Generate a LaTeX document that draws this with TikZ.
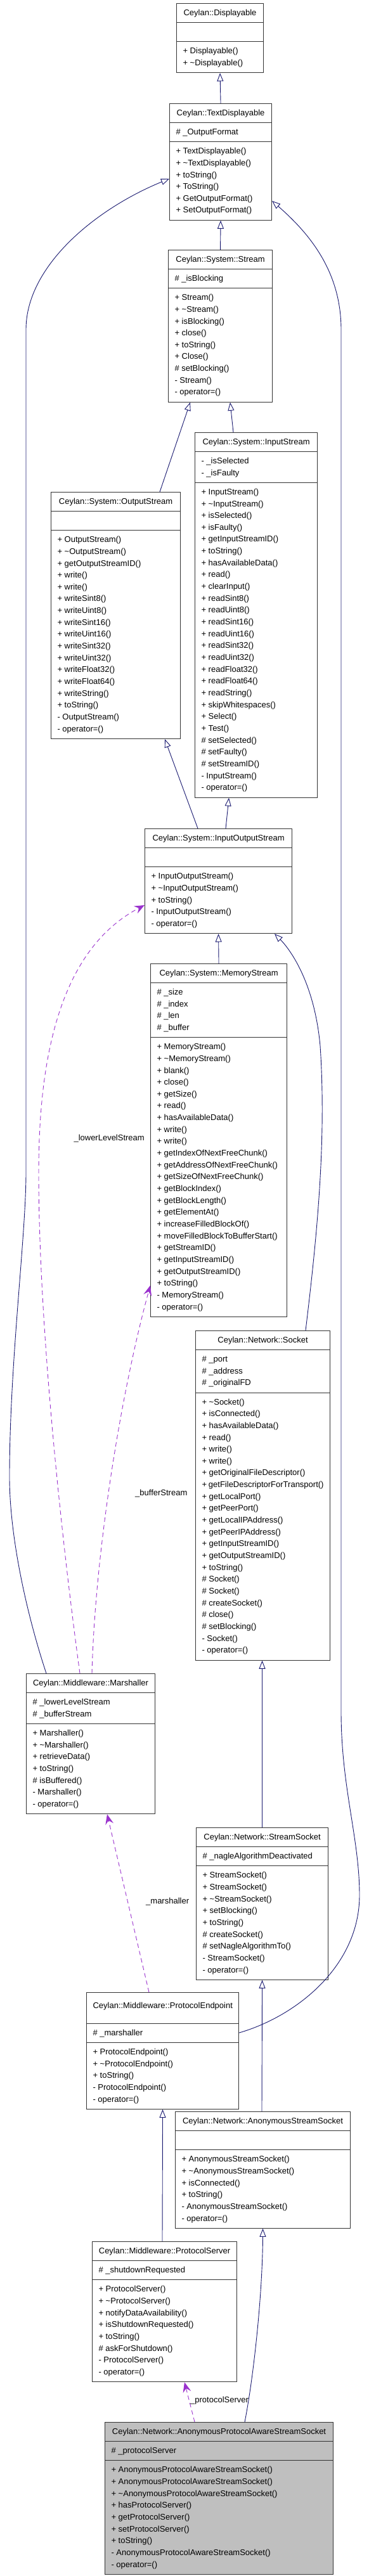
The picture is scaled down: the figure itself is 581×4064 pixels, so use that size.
\documentclass[tikz,border=0pt]{standalone}
\usepackage{fontspec}
\setmainfont{Liberation Sans}
\usetikzlibrary{arrows.meta, shapes.multipart}

\definecolor{inhcol}{RGB}{25,25,112}
\definecolor{usecol}{RGB}{154,50,205}

\tikzset{
  umlclass/.style={rectangle split, rectangle split parts=3, draw=black!80, line width=1.1pt, fill=white,
    align=flush left, inner xsep=10pt, inner ysep=5.2pt, anchor=north west, font=\fontsize{13}{18.66}\selectfont},
  inherit/.style={draw=inhcol, line width=0.9pt, -{Triangle[open, length=13pt, width=10pt]}},
  uses/.style={draw=usecol, line width=0.9pt, dash pattern=on 7pt off 5pt, -{Stealth[length=16pt, width=13pt, inset=6pt]}},
  lbl/.style={anchor=west, inner sep=0pt, font=\fontsize{13}{16}\selectfont}
}

\hyphenpenalty=10000
\exhyphenpenalty=10000
\hbadness=10000
\hfuzz=20pt
\newcommand{\umlparts}[3]{\hfill\strut#1\hfill\null\nodepart{two}\strut#2\strut\nodepart{three}\strut#3\strut}

\begin{document}
\begin{tikzpicture}[x=1pt, y=-1pt]
\useasboundingbox (0,0) rectangle (581,4064);

\node[umlclass, text width=117pt] (disp) at (278,5) {\umlparts{Ceylan::Displayable}{}{+ Displayable()\\+ \textasciitilde Displayable()}};
\node[umlclass, text width=141pt] (textdisp) at (267,163) {\umlparts{Ceylan::TextDisplayable}{\# \_OutputFormat}{+ TextDisplayable()\\+ \textasciitilde TextDisplayable()\\+ toString()\\+ ToString()\\+ GetOutputFormat()\\+ SetOutputFormat()}};
\node[umlclass, text width=144pt] (stream) at (265,394) {\umlparts{Ceylan::System::Stream}{\# \_isBlocking}{+ Stream()\\+ \textasciitilde Stream()\\+ isBlocking()\\+ close()\\+ toString()\\+ Close()\\\# setBlocking()\\- Stream()\\- operator=()}};
\node[umlclass, text width=184pt] (outstream) at (80,776) {\umlparts{Ceylan::System::OutputStream}{}{+ OutputStream()\\+ \textasciitilde OutputStream()\\+ getOutputStreamID()\\+ write()\\+ write()\\+ writeSint8()\\+ writeUint8()\\+ writeSint16()\\+ writeUint16()\\+ writeSint32()\\+ writeUint32()\\+ writeFloat32()\\+ writeFloat64()\\+ writeString()\\+ toString()\\- OutputStream()\\- operator=()}};
\node[umlclass, text width=173pt] (instream) at (307,682) {\umlparts{Ceylan::System::InputStream}{- \_isSelected\\- \_isFaulty}{+ InputStream()\\+ \textasciitilde InputStream()\\+ isSelected()\\+ isFaulty()\\+ getInputStreamID()\\+ toString()\\+ hasAvailableData()\\+ read()\\+ clearInput()\\+ readSint8()\\+ readUint8()\\+ readSint16()\\+ readUint16()\\+ readSint32()\\+ readUint32()\\+ readFloat32()\\+ readFloat64()\\+ readString()\\+ skipWhitespaces()\\+ Select()\\+ Test()\\\# setSelected()\\\# setFaulty()\\\# setStreamID()\\- InputStream()\\- operator=()}};
\node[umlclass, text width=212pt] (iostream) at (228,1307) {\umlparts{Ceylan::System::InputOutputStream}{}{+ InputOutputStream()\\+ \textasciitilde InputOutputStream()\\+ toString()\\- InputOutputStream()\\- operator=()}};
\node[umlclass, text width=195pt] (memstream) at (237,1520) {\umlparts{Ceylan::System::MemoryStream}{\# \_size\\\# \_index\\\# \_len\\\# \_buffer}{+ MemoryStream()\\+ \textasciitilde MemoryStream()\\+ blank()\\+ close()\\+ getSize()\\+ read()\\+ hasAvailableData()\\+ write()\\+ write()\\+ getIndexOfNextFreeChunk()\\+ getAddressOfNextFreeChunk()\\+ getSizeOfNextFreeChunk()\\+ getBlockIndex()\\+ getBlockLength()\\+ getElementAt()\\+ increaseFilledBlockOf()\\+ moveFilledBlockToBufferStart()\\+ getStreamID()\\+ getInputStreamID()\\+ getOutputStreamID()\\+ toString()\\- MemoryStream()\\- operator=()}};
\node[umlclass, text width=192pt] (socket) at (308,2099) {\umlparts{Ceylan::Network::Socket}{\# \_port\\\# \_address\\\# \_originalFD}{+ \textasciitilde Socket()\\+ isConnected()\\+ hasAvailableData()\\+ read()\\+ write()\\+ write()\\+ getOriginalFileDescriptor()\\+~getFileDescriptorForTransport()\\+ getLocalPort()\\+ getPeerPort()\\+ getLocalIPAddress()\\+ getPeerIPAddress()\\+ getInputStreamID()\\+ getOutputStreamID()\\+ toString()\\\# Socket()\\\# Socket()\\\# createSocket()\\\# close()\\\# setBlocking()\\- Socket()\\- operator=()}};
\node[umlclass, text width=183pt] (marshaller) at (41,2640) {\umlparts{Ceylan::Middleware::Marshaller}{\# \_lowerLevelStream\\\# \_bufferStream}{+ Marshaller()\\+ \textasciitilde Marshaller()\\+ retrieveData()\\+ toString()\\\# isBuffered()\\- Marshaller()\\- operator=()}};
\node[umlclass, text width=188pt] (streamsocket) at (309,2883) {\umlparts{Ceylan::Network::StreamSocket}{\# \_nagleAlgorithmDeactivated}{+ StreamSocket()\\+ StreamSocket()\\+ \textasciitilde StreamSocket()\\+ setBlocking()\\+ toString()\\\# createSocket()\\\# setNagleAlgorithmTo()\\- StreamSocket()\\- operator=()}};
\node[umlclass, text width=220pt] (protoend) at (136,3143) {\umlparts{Ceylan::Middleware::ProtocolEndpoint}{\# \_marshaller}{+ ProtocolEndpoint()\\+ \textasciitilde ProtocolEndpoint()\\+ toString()\\- ProtocolEndpoint()\\- operator=()}};
\node[umlclass, text width=256pt] (anonsocket) at (276,3331) {\umlparts{Ceylan::Network::AnonymousStreamSocket}{}{+ AnonymousStreamSocket()\\+ \textasciitilde AnonymousStreamSocket()\\+ isConnected()\\+ toString()\\- AnonymousStreamSocket()\\- operator=()}};
\node[umlclass, text width=208pt] (protoserver) at (145,3536) {\umlparts{Ceylan::Middleware::ProtocolServer}{\# \_shutdownRequested}{+ ProtocolServer()\\+ \textasciitilde ProtocolServer()\\+ notifyDataAvailability()\\+ isShutdownRequested()\\+ toString()\\\# askForShutdown()\\- ProtocolServer()\\- operator=()}};
\node[umlclass, text width=340pt, fill=black!25] (apass) at (165,3821) {\umlparts{Ceylan::Network::AnonymousProtocolAwareStreamSocket}{\# \_protocolServer}{+ AnonymousProtocolAwareStreamSocket()\\+ AnonymousProtocolAwareStreamSocket()\\+ \textasciitilde AnonymousProtocolAwareStreamSocket()\\+ hasProtocolServer()\\+ getProtocolServer()\\+ setProtocolServer()\\+ toString()\\- AnonymousProtocolAwareStreamSocket()\\- operator=()}};

\draw[inherit] (textdisp.north) -- (disp.south);
\draw[inherit] (stream.north) -- (textdisp.south);
\draw[inherit] ([xshift=172pt]outstream.north west) -- ([xshift=35pt]stream.south west);
\draw[inherit] ([xshift=61pt]instream.north west) -- ([xshift=98pt]stream.south west);
\draw[inherit] ([xshift=84pt]iostream.north west) -- ([xshift=180pt]outstream.south west);
\draw[inherit] ([xshift=128pt]iostream.north west) -- ([xshift=54pt]instream.south west);
\draw[inherit] (memstream.north) -- (iostream.south);
\draw[inherit] ([xshift=174pt]socket.north west) .. controls (500,1950) and (515,1800) .. (505,1650) .. controls (495,1540) and (450,1490) .. ([xshift=205pt]iostream.south west);
\draw[inherit] ([xshift=32pt]marshaller.north west) .. controls (40,2540) and (15,2420) .. (15,2330) .. controls (15,2150) and (41,1950) .. (41,1850) -- (41,520) .. controls (41,420) and (150,330) .. ([yshift=-119pt]textdisp.north west);
\draw[inherit] ([yshift=-64pt]protoend.north east) .. controls (470,3180) and (567,3100) .. (567,2990) .. controls (567,2900) and (538,2820) .. (538,2700) -- (538,520) .. controls (538,430) and (490,370) .. ([yshift=-154pt]textdisp.north east);
\draw[inherit] (streamsocket.north) -- (streamsocket.north |- socket.south);
\draw[inherit] ([xshift=137pt]anonsocket.north west) -- (streamsocket.south);
\draw[inherit] ([xshift=111pt]protoserver.north west) -- (protoend.south);
\draw[inherit] ([xshift=221pt]apass.north west) .. controls (400,3750) and (414,3620) .. (anonsocket.south);

\draw[uses] ([xshift=85pt]marshaller.north west) .. controls (100,2450) and (61,2100) .. (61,1850) .. controls (61,1680) and (90,1500) .. ([yshift=-121pt]iostream.north west);
\draw[uses] ([xshift=104pt]marshaller.north west) .. controls (150,2450) and (190,2200) .. ([yshift=-508pt]memstream.north west);
\draw[uses] ([xshift=99pt]protoend.north west) -- ([xshift=128pt]marshaller.south west);
\draw[uses] ([xshift=142pt]apass.north west) -- ([xshift=146pt]protoserver.south west);

\node[lbl, anchor=east] (lowerlbl) at (228,1796) {\_lowerLevelStream};
\node[lbl] (bufferlbl) at (213,2356) {\_bufferStream};
\node[lbl] (marshlbl) at (230,3000) {\_marshaller};
\node[lbl] (protolbl) at (300,3787) {\_protocolServer};
\end{tikzpicture}
\end{document}
